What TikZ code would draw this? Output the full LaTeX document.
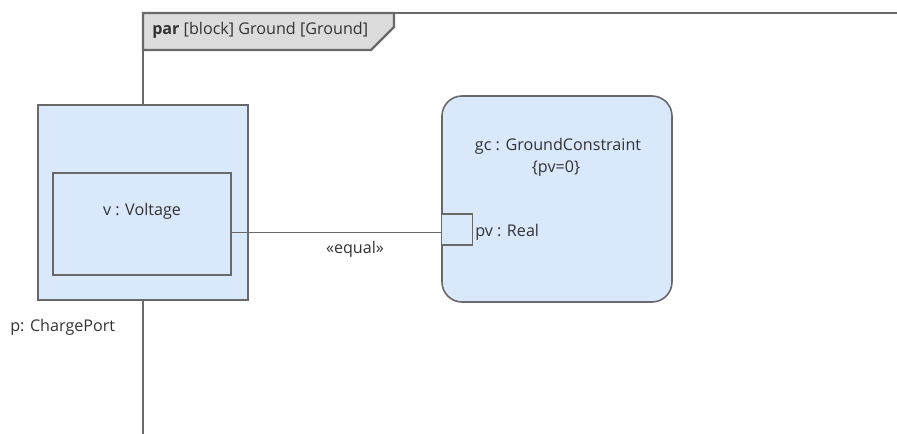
\documentclass[tikz,border=0pt]{standalone}
\usepackage{fontspec}
\setmainfont{Open Sans}
\begin{document}
\begin{tikzpicture}[x=0.75pt,y=-0.75pt,
  lbl/.style={text=txt,font=\fontsize{12.1}{14}\selectfont,inner sep=0pt},
  blk/.style={draw=edge,fill=blockfill,line width=1.2pt},
  framel/.style={draw=edge,line width=1.6pt},
  conn/.style={draw=edge,line width=1.1pt}]
\definecolor{edge}{HTML}{696969}
\definecolor{blockfill}{HTML}{DAE8FB}
\definecolor{hdrfill}{HTML}{DCDCDC}
\definecolor{txt}{HTML}{333333}
\useasboundingbox (0,0) rectangle (897,434);
% frame
\draw[framel] (143,434) -- (143,13) -- (897,13);
\path[framel,fill=hdrfill] (143,13) -- (394,13) -- (394,27) -- (371,50) -- (143,50) -- cycle;
\node[lbl,anchor=west] (hdr) at (152,30) {\textbf{par} [block] Ground [Ground]};
% outer block p
\path[blk] (38,105) rectangle (248,300);
\coordinate (pb) at (143,300);
\node[lbl,anchor=west] (plbl) at (10,327) {p: ChargePort};
% inner block v
\node[blk,minimum width=178*0.75pt,minimum height=102*0.75pt,inner sep=0pt] (v) at (142,224) {};
\node[lbl] (vlbl) at (142,211) {v : Voltage};
% constraint block
\node[blk,rounded corners=15pt,minimum width=230*0.75pt,minimum height=206*0.75pt,inner sep=0pt] (gc) at (557,199) {};
\node[lbl] (gclbl) at (558,146) {gc : GroundConstraint};
\node[lbl] (pvc) at (556,169) {\{pv=0\}};
% port
\node[blk,minimum width=31*0.75pt,minimum height=31*0.75pt,inner sep=0pt] (pv) at (457,229.5) {};
\node[lbl,anchor=west] (pvlbl) at (475,232) {pv : Real};
% connector
\coordinate (vr) at (231,232.5);
\coordinate (pvl) at (441.5,232.5);
\draw[conn] (vr) -- (pvl);
\node[lbl] (eq) at (355,249) {«equal»};
\end{tikzpicture}
\end{document}
